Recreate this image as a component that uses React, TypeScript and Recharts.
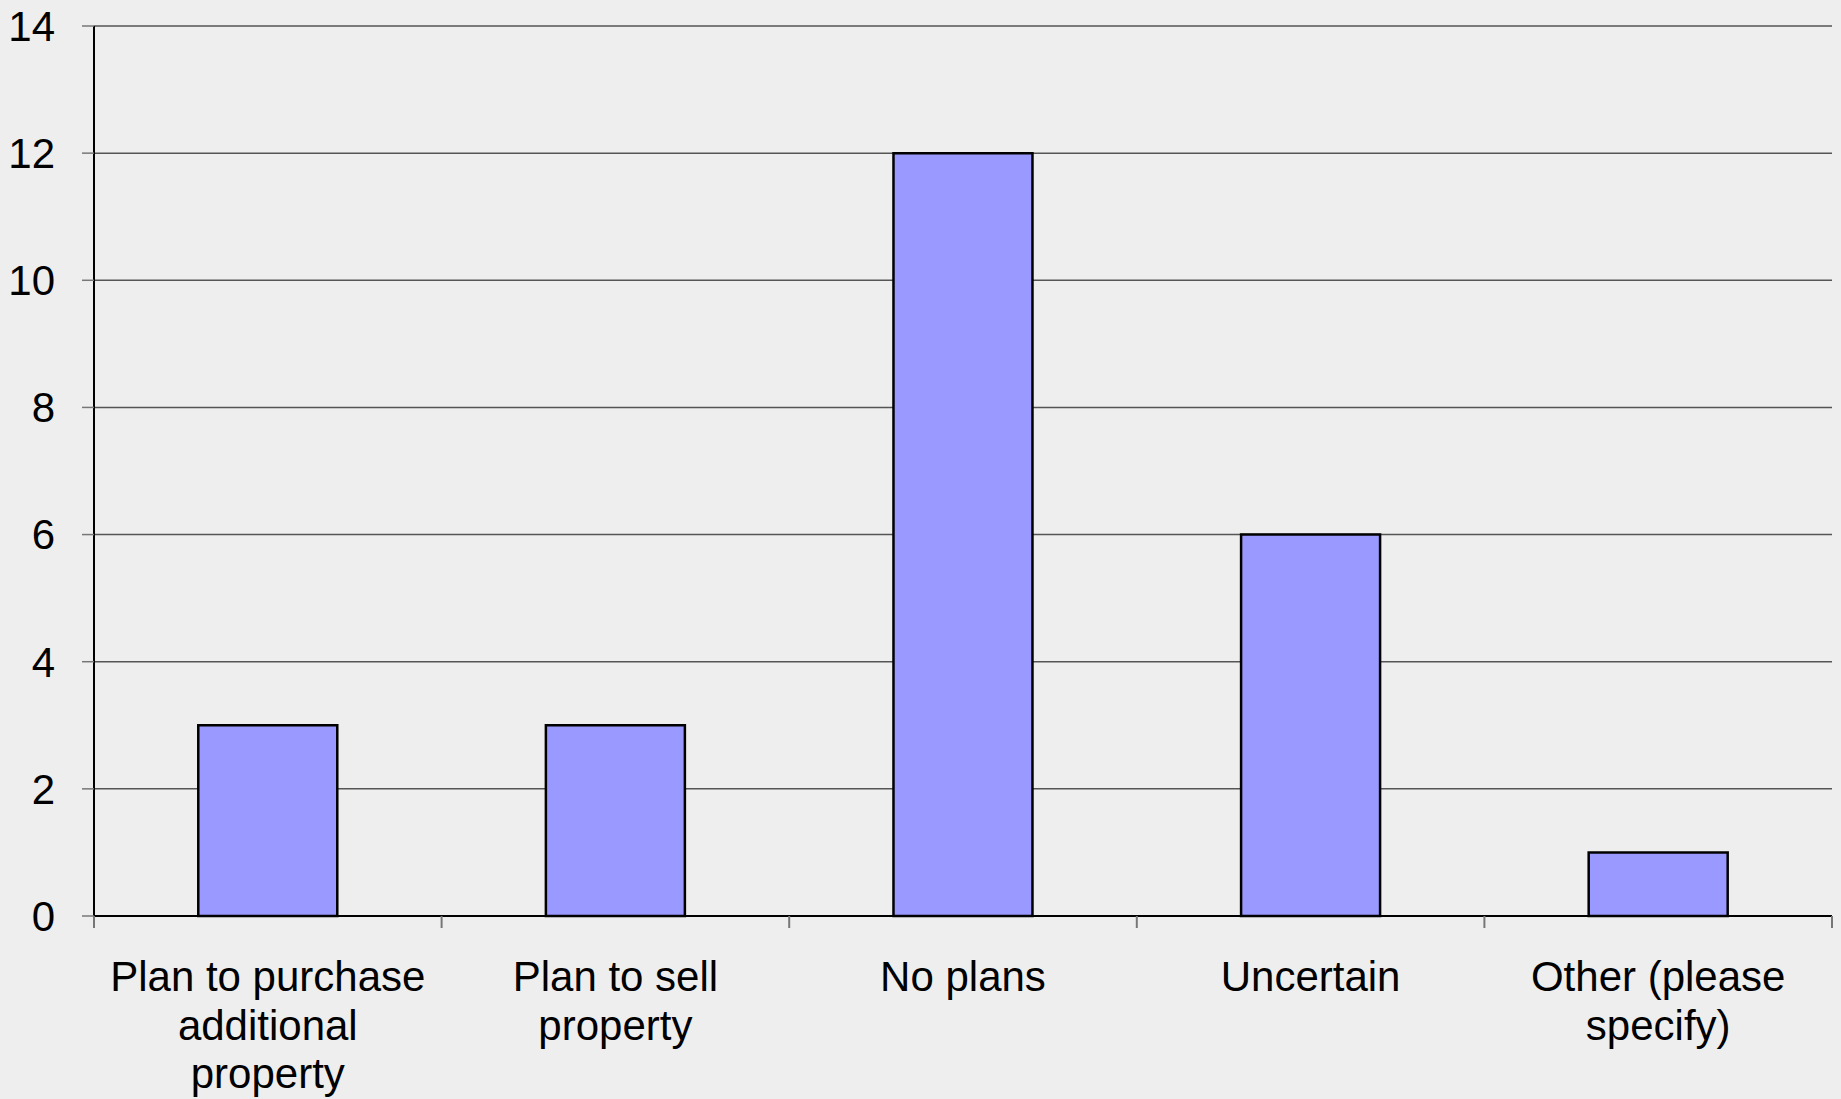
import { Bar, BarChart, CartesianGrid, XAxis, YAxis } from "recharts";

// label line breaks follow the wrapping in the source chart
const categories = [
  "Plan to purchase\nadditional\nproperty",
  "Plan to sell\nproperty",
  "No plans",
  "Uncertain",
  "Other (please\nspecify)",
];
const responses = [3, 3, 12, 6, 1];
const yTicks = [0, 2, 4, 6, 8, 10, 12, 14];

const data = categories.map((name, i) => ({ name, value: responses[i] }));

const font = "'Liberation Sans', Arial, sans-serif";

function CategoryTick(props: any) {
  const { x, y, payload, index, visibleTicksCount } = props;
  const half = payload.offset || 0;
  const lines = String(payload.value).split("\n");
  const axisY = y - 45;
  return (
    <g>
      <line
        x1={x - half}
        x2={x - half}
        y1={axisY}
        y2={axisY + 12}
        stroke="#777"
        strokeWidth={2}
      />
      {index === visibleTicksCount - 1 && (
        <line
          x1={x + half}
          x2={x + half}
          y1={axisY}
          y2={axisY + 12}
          stroke="#777"
          strokeWidth={2}
        />
      )}
      <text
        x={x}
        y={y + 30}
        textAnchor="middle"
        fontSize={42}
        fontFamily={font}
        fill="#000"
      >
        {lines.map((line, i) => (
          <tspan key={i} x={x} dy={i === 0 ? 0 : 48.5}>
            {line}
          </tspan>
        ))}
      </text>
    </g>
  );
}

export default function App() {
  return (
    <div
      style={{
        position: "absolute",
        left: 0,
        top: 0,
        width: 1841,
        height: 1099,
        background: "#eeeeee",
      }}
    >
      <BarChart
        width={1841}
        height={1099}
        data={data}
        barCategoryGap="30%"
        margin={{ top: 26, right: 9, left: 0, bottom: 0 }}
      >
        <CartesianGrid vertical={false} stroke="#555" strokeWidth={1.5} />
        <XAxis
          dataKey="name"
          interval={0}
          height={183}
          tickSize={0}
          tickMargin={45}
          tickLine={false}
          axisLine={{ stroke: "#000", strokeWidth: 2 }}
          tick={<CategoryTick />}
        />
        <YAxis
          domain={[0, 14]}
          ticks={yTicks}
          interval={0}
          width={94}
          tickSize={12}
          tickMargin={27}
          tickLine={{ stroke: "#777", strokeWidth: 1.5 }}
          axisLine={{ stroke: "#000", strokeWidth: 2 }}
          tick={{ fontSize: 42, fontFamily: font, fill: "#000" }}
        />
        <Bar
          dataKey="value"
          fill="#9999ff"
          stroke="#000"
          strokeWidth={2.5}
          isAnimationActive={false}
        />
      </BarChart>
    </div>
  );
}
